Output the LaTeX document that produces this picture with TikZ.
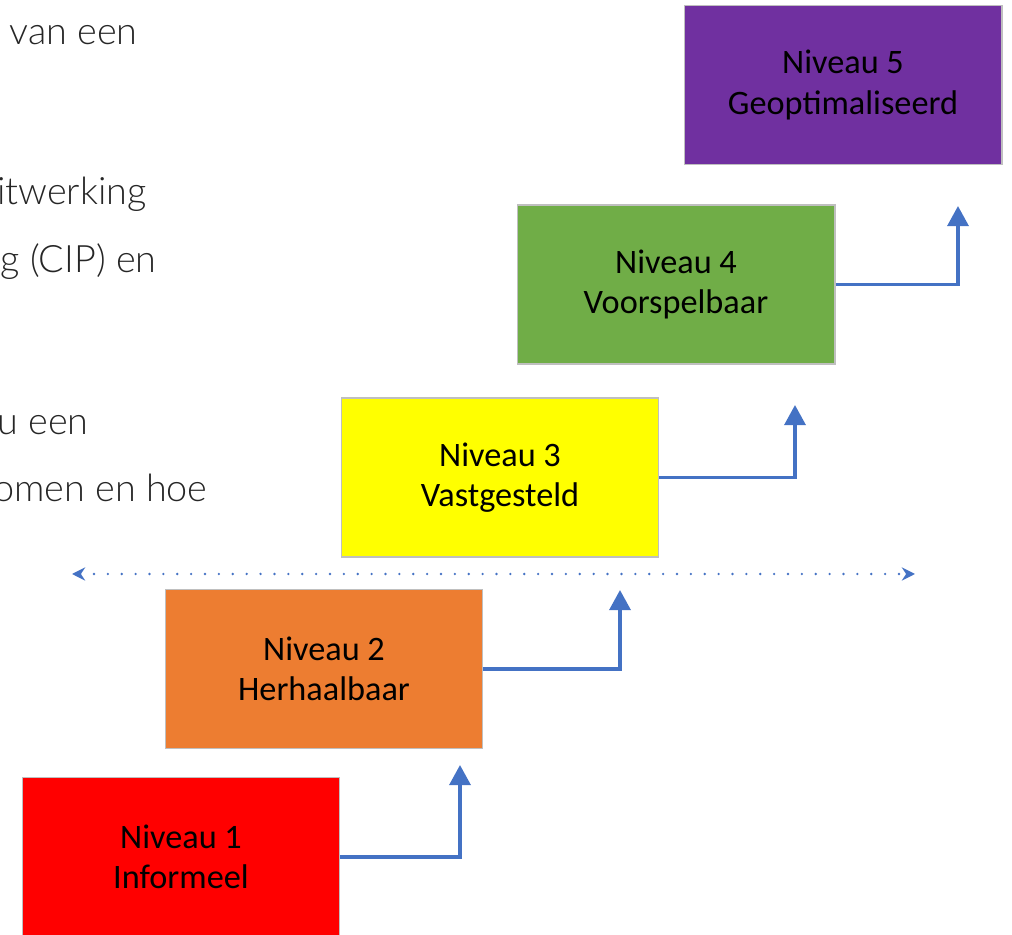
\documentclass[tikz,border=0pt]{standalone}
\usepackage{fontspec}
\setmainfont{Carlito}
\newfontfamily\lichtfont{Lato Light}
\usetikzlibrary{arrows.meta}
\definecolor{stapblauw}{HTML}{4472C4}
\definecolor{randgrijs}{HTML}{BFBFBF}
\definecolor{tekstgrijs}{HTML}{262626}
\definecolor{nivrood}{HTML}{FF0000}
\definecolor{nivoranje}{HTML}{ED7D31}
\definecolor{nivgeel}{HTML}{FFFF00}
\definecolor{nivgroen}{HTML}{70AD47}
\definecolor{nivpaars}{HTML}{7030A0}
\begin{document}
\begin{tikzpicture}[x=0.02cm,y=-0.02cm,
    niveau/.style={draw=randgrijs,line width=0.6pt,minimum width=6.36cm,minimum height=3.18cm,
      inner sep=0pt,align=center,font=\fontsize{19.5}{23}\selectfont},
    stap/.style={draw=stapblauw,line width=2pt,-{Triangle[length=11.5pt,width=12pt]}},
    stippel/.style={draw=stapblauw,line width=1.5pt,line cap=round,dash pattern=on 0pt off 7.9pt,
      {Stealth[length=7.5pt,width=7.5pt]}-{Stealth[length=7.5pt,width=7.5pt]}},
    tekst/.style={anchor=base east,inner sep=0pt,text=tekstgrijs,font=\lichtfont\fontsize{21.5}{25}\selectfont}]
  \useasboundingbox (0,0) rectangle (1012,935);
  \clip (0,0) rectangle (1012,935);
  % tekst links achter de figuur
  \node[tekst] (r1) at (138,45) {d van een};
  \node[tekst] (r2) at (147,205) {uitwerking};
  \node[tekst] (r3) at (157,273) {ng (CIP) en};
  \node[tekst] (r4) at (89,435) {au een};
  \node[tekst] (r5) at (208,502) {omen en hoe};
  % niveaus
  \node[niveau,fill=nivrood] (n1) at (181,857) {Niveau 1\\Informeel};
  \node[niveau,fill=nivoranje] (n2) at (324,669) {Niveau 2\\Herhaalbaar};
  \node[niveau,fill=nivgeel] (n3) at (500,477.5) {Niveau 3\\Vastgesteld};
  \node[niveau,fill=nivgroen] (n4) at (676,284.5) {Niveau 4\\Voorspelbaar};
  \node[niveau,fill=nivpaars] (n5) at (843,85) {Niveau 5\\Geoptimaliseerd};
  % stappen
  \coordinate (t1) at (460,765);
  \coordinate (t2) at (620,590);
  \coordinate (t3) at (795,405);
  \coordinate (t4) at (958,206);
  \draw[stap] (n1.east) -| (t1);
  \draw[stap] (n2.east) -| (t2);
  \draw[stap] (n3.east) -| (t3);
  \draw[stap] (n4.east) -| (t4);
  % stippellijn
  \coordinate (sl) at (72,574);
  \coordinate (sr) at (915,574);
  \draw[stippel] (sl) -- (sr);
\end{tikzpicture}
\end{document}
